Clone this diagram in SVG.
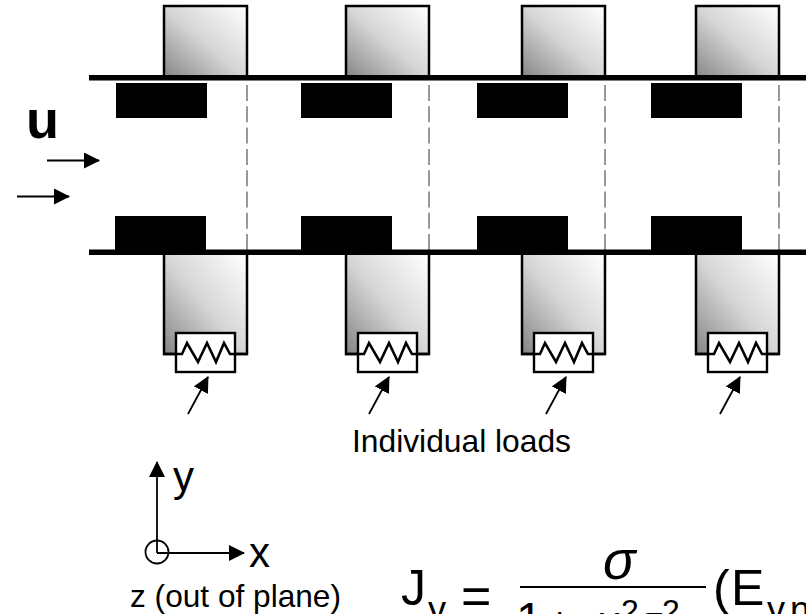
<svg xmlns="http://www.w3.org/2000/svg" width="806" height="614" viewBox="0 0 806 614">
<style>
text{font-family:"Liberation Sans",Arial,sans-serif;fill:#000}
.e{fill:url(#g);stroke:#000;stroke-width:2.5}
.m{fill:#000}
.d{stroke:#999;stroke-width:2;stroke-dasharray:16 5.3;fill:none}
.l{fill:#fff;stroke:#000;stroke-width:2.4}
.w{fill:none;stroke:#000;stroke-width:2.6}
.a{stroke:#000;stroke-width:1.8;fill:none}
</style>
<defs>
<linearGradient id="g" x1="0" y1="1" x2="1" y2="0"><stop offset="0" stop-color="#858585"/><stop offset="0.5" stop-color="#d6d6d6"/><stop offset="1" stop-color="#fff"/></linearGradient>
<marker id="ah" viewBox="0 0 16 16" refX="15" refY="8" markerWidth="16" markerHeight="16" markerUnits="userSpaceOnUse" orient="auto"><path d="M0 0L16 8L0 16z" fill="#000"/></marker>
<g id="seg">
<path class="e" d="M-83 78V6H0V78"/>
<path class="e" d="M-83 255V354H0V255"/>
<path class="d" d="M0 85V252"/>
<rect class="l" x="-71" y="333" width="59" height="39"/>
<path class="w" d="M-84 354H-65L-60 343L-49 362L-40 343L-31 362L-23 343L-17 354H0"/>
</g>
</defs>
<g id="node1"><use href="#seg" x="247"/><path class="m" d="M116 83H207V118H116zM115 216H206V252H115z"/></g>
<g id="node2"><use href="#seg" x="429"/><path class="m" d="M301 83H392V118H301zM301 216H392V252H301z"/></g>
<g id="node3"><use href="#seg" x="605"/><path class="m" d="M477 83H568V118H477zM477 216H568V252H477z"/></g>
<g id="node4"><use href="#seg" x="779"/><path class="m" d="M651 83H742V118H651zM651 216H742V252H651z"/></g>
<g id="walls">
<rect class="m" x="89" y="75" width="717" height="5.5"/>
<rect class="m" x="89" y="249.5" width="717" height="5.5"/>
</g>
<g id="connectors">
<path class="a" d="M47 160.500H99" marker-end="url(#ah)"/>
<path class="a" d="M17 196.500H69" marker-end="url(#ah)"/>
<path class="a" d="M188 414L208 377" marker-end="url(#ah)"/>
<path class="a" d="M369 414L389 377" marker-end="url(#ah)"/>
<path class="a" d="M546 414L566 377" marker-end="url(#ah)"/>
<path class="a" d="M720 414L740 377" marker-end="url(#ah)"/>
<path class="a" d="M157 553V462" marker-end="url(#ah)"/>
<path class="a" d="M157 553H244" marker-end="url(#ah)"/>
</g>
<circle cx="157" cy="552" r="11.500" fill="none" stroke="#000" stroke-width="1.800"/>
<text x="26" y="137.500" font-size="54" font-weight="bold">u</text>
<text x="173" y="491" font-size="42">y</text>
<text x="249" y="567" font-size="42">x</text>
<text x="130" y="607" font-size="32" textLength="211" lengthAdjust="spacingAndGlyphs">z (out of plane)</text>
<text x="352" y="452" font-size="32" textLength="219" lengthAdjust="spacingAndGlyphs">Individual loads</text>
<g id="formula">
<text x="401" y="605" font-size="50">J</text>
<text x="428" y="622" font-size="36">y</text>
<text x="461" y="614" font-size="52">=</text>
<path d="M520 587H706" stroke="#000" stroke-width="2"/>
<text x="603" y="579" font-size="54" font-style="italic">σ</text>
<text x="516" y="636" font-size="48">1</text>
<text x="548" y="636" font-size="40">+</text>
<text x="597" y="637" font-size="44">μ</text>
<text x="621" y="622" font-size="32">2</text>
<text x="645" y="637" font-size="44">τ</text>
<text x="662" y="622" font-size="32">2</text>
<text x="713" y="605" font-size="50">(</text>
<text x="731" y="605" font-size="50">E</text>
<text x="767" y="622" font-size="36">y</text>
<text x="790" y="622" font-size="36">n</text>
</g>
</svg>
